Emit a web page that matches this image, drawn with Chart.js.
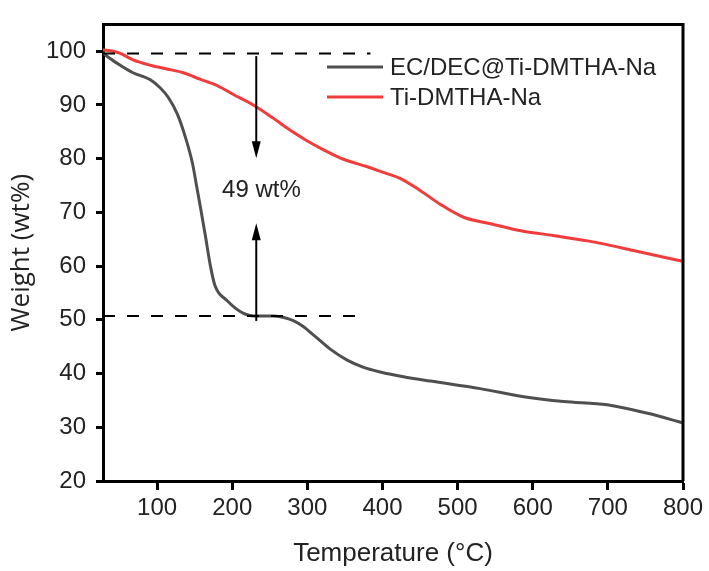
<!DOCTYPE html>
<html>
<head>
<meta charset="utf-8">
<script src="https://cdn.jsdelivr.net/npm/chart.js@4/dist/chart.umd.min.js"></script>
<style>
  body { margin: 0; background: #fff; }
  #chart { display: block; }
</style>
</head>
<body>
<canvas id="chart" width="709" height="571"></canvas>
<script>
// TGA curves
var tempComposite = [28, 36, 51, 68, 91, 104, 115, 127, 137, 147, 153, 157, 164, 171, 177, 193, 215, 234, 255, 270, 282, 294, 308, 330, 353, 374, 397, 428, 464, 530, 588, 641, 699, 753, 800];
var weightComposite = [99.7, 98.8, 97.4, 96.0, 94.7, 93.2, 91.4, 88.3, 84.3, 79.2, 74.6, 71.5, 65.9, 60.0, 56.4, 53.6, 51.2, 50.7, 50.7, 50.4, 49.8, 48.8, 47.2, 44.6, 42.5, 41.2, 40.3, 39.4, 38.6, 37.2, 35.7, 34.8, 34.2, 32.6, 30.8];

var tempPure = [28, 41, 51, 68, 91, 113, 135, 157, 180, 201, 228, 254, 270, 285, 300, 321, 348, 380, 400, 424, 450, 477, 508, 544, 584, 627, 673, 699, 734, 770, 800];
var weightPure = [100.3, 100.0, 99.6, 98.4, 97.4, 96.7, 96.0, 94.8, 93.6, 92.0, 90.0, 87.6, 86.0, 84.6, 83.3, 81.7, 79.9, 78.5, 77.5, 76.3, 74.1, 71.5, 69.1, 67.9, 66.6, 65.7, 64.7, 64.0, 62.9, 61.8, 60.9];

var seriesNames = ['EC/DEC@Ti-DMTHA-Na', 'Ti-DMTHA-Na'];
var seriesColors = ['#4f4f4f', '#f23c3c'];

var xTicks = [100, 200, 300, 400, 500, 600, 700, 800];
var yTicks = [20, 30, 40, 50, 60, 70, 80, 90, 100];

// dashed guide levels and the mass-loss arrow
var upperLevel = 99.6, lowerLevel = 50.7;
var upperEnd = 384, lowerEnd = 374;
var arrowX = 232;
var arrowDown = [99.1, 80.1];
var arrowUp = [49.8, 68.0];
var lossLabel = '49 wt%';
var lossLabelPos = [186.5, 74.1];

var FONT = 'Arial, "Liberation Sans", sans-serif';

function toPoints(xs, ys) {
  return xs.map(function (x, i) { return { x: x, y: ys[i] }; });
}

var framePlugin = {
  id: 'frame',
  afterDatasetsDraw: function (chart) {
    var ctx = chart.ctx, a = chart.chartArea;
    var xs = chart.scales.x, ys = chart.scales.y;
    ctx.save();

    // top and right sides of the box
    ctx.strokeStyle = '#000';
    ctx.lineWidth = 3;
    ctx.beginPath();
    ctx.moveTo(a.left, a.top);
    ctx.lineTo(a.right, a.top);
    ctx.lineTo(a.right, a.bottom);
    ctx.stroke();

    // dashed guides
    ctx.lineWidth = 2;
    ctx.setLineDash([12, 12]);
    ctx.beginPath();
    ctx.moveTo(a.left, ys.getPixelForValue(upperLevel));
    ctx.lineTo(xs.getPixelForValue(upperEnd), ys.getPixelForValue(upperLevel));
    ctx.moveTo(a.left, ys.getPixelForValue(lowerLevel));
    ctx.lineTo(xs.getPixelForValue(lowerEnd), ys.getPixelForValue(lowerLevel));
    ctx.stroke();
    ctx.setLineDash([]);

    // arrows
    var ax = xs.getPixelForValue(arrowX);
    function arrow(from, to) {
      var y0 = ys.getPixelForValue(from), y1 = ys.getPixelForValue(to);
      var dir = y1 > y0 ? 1 : -1;
      ctx.beginPath();
      ctx.moveTo(ax, y0);
      ctx.lineTo(ax, y1 - dir * 10);
      ctx.stroke();
      ctx.beginPath();
      ctx.moveTo(ax, y1);
      ctx.lineTo(ax - 4.5, y1 - dir * 17);
      ctx.lineTo(ax + 4.5, y1 - dir * 17);
      ctx.closePath();
      ctx.fill();
    }
    ctx.fillStyle = '#000';
    arrow(arrowDown[0], arrowDown[1]);
    arrow(arrowUp[0], arrowUp[1]);

    ctx.font = '24px ' + FONT;
    ctx.fillStyle = '#222';
    ctx.textAlign = 'left';
    ctx.textBaseline = 'middle';
    ctx.fillText(lossLabel, xs.getPixelForValue(lossLabelPos[0]), ys.getPixelForValue(lossLabelPos[1]));

    // legend
    seriesNames.forEach(function (name, i) {
      var y = 67 + i * 30;
      ctx.strokeStyle = seriesColors[i];
      ctx.lineWidth = 3;
      ctx.beginPath();
      ctx.moveTo(327, y);
      ctx.lineTo(383, y);
      ctx.stroke();
      ctx.fillStyle = '#222';
      ctx.fillText(name, 390, y + 1);
    });
    ctx.restore();
  }
};

var config = {
  type: 'line',
  data: {
    datasets: [
      {
        label: seriesNames[0],
        data: toPoints(tempComposite, weightComposite),
        borderColor: seriesColors[0],
        borderWidth: 3,
        pointRadius: 0,
        cubicInterpolationMode: 'monotone',
        fill: false,
      },
      {
        label: seriesNames[1],
        data: toPoints(tempPure, weightPure),
        borderColor: seriesColors[1],
        borderWidth: 3,
        pointRadius: 0,
        cubicInterpolationMode: 'monotone',
        fill: false,
      },
    ],
  },
  options: {
    responsive: false,
    animation: false,
    layout: { padding: { top: 15, right: 26, left: 0, bottom: 0 } },
    plugins: {
      legend: { display: false },
      tooltip: { enabled: false },
    },
    scales: {
      x: {
        type: 'linear',
        min: 28,
        max: 800,
        afterBuildTicks: function (s) { s.ticks = xTicks.map(function (v) { return { value: v }; }); },
        afterFit: function (s) { s.height = 90; },
        grid: { drawOnChartArea: false, drawTicks: true, tickLength: 9, tickWidth: 3, tickColor: '#000' },
        border: { display: true, color: '#000', width: 3 },
        ticks: { color: '#222', font: { family: FONT, size: 24 }, padding: 4, maxRotation: 0 },
        title: {
          display: true,
          text: 'Temperature (°C)',
          color: '#222',
          font: { family: FONT, size: 26 },
          padding: { top: 0, bottom: 2 },
        },
      },
      y: {
        min: 20,
        max: 105,
        afterBuildTicks: function (s) { s.ticks = yTicks.map(function (v) { return { value: v }; }); },
        afterFit: function (s) { s.width = 103; },
        grid: { drawOnChartArea: false, drawTicks: true, tickLength: 7, tickWidth: 3, tickColor: '#000' },
        border: { display: true, color: '#000', width: 3 },
        ticks: { color: '#222', font: { family: FONT, size: 24 }, padding: 10 },
        title: {
          display: true,
          text: 'Weight (wt%)',
          color: '#222',
          font: { family: '"Open Sans", sans-serif', size: 26 },
          padding: { top: 6, bottom: 0 },
        },
      },
    },
  },
  plugins: [framePlugin],
};

var myChart = new Chart(document.getElementById('chart'), config);
</script>
</body>
</html>
